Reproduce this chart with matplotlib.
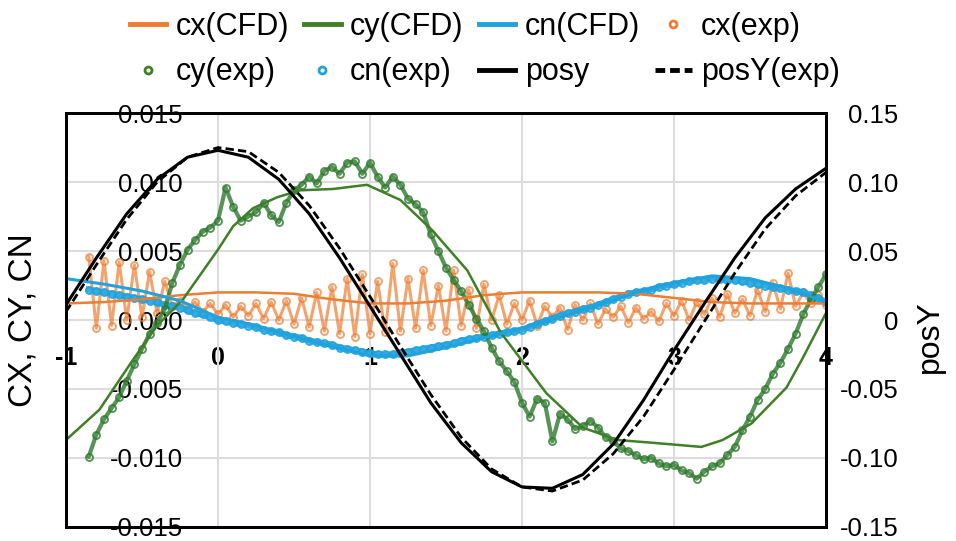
import numpy as np
import matplotlib
matplotlib.use("Agg")
import matplotlib.pyplot as plt
from matplotlib.lines import Line2D

plt.rcParams["font.family"] = ["Liberation Sans", "DejaVu Sans"]

# ── Data ──────────────────────────────────────────────────────────────────────
# CFD curves, coarse grid
t_cfd = [-1.0, -0.75, -0.5, -0.25, 0.0, 0.25, 0.5, 0.75, 1.0, 1.25, 1.5,
         1.75, 2.0, 2.25, 2.5, 2.75, 3.0, 3.25, 3.5, 3.75, 4.0]
cx_cfd = [0.0012, 0.0013, 0.0015, 0.0018, 0.0020, 0.0020, 0.0019, 0.0015,
          0.0012, 0.0012, 0.0014, 0.0018, 0.0020, 0.0020, 0.0020, 0.0019,
          0.0016, 0.0013, 0.0012, 0.0012, 0.0012]
cn_cfd = [0.0030, 0.0026, 0.0021, 0.0014, 0.0002, -0.0004, -0.0012, -0.0019,
          -0.0026, -0.0026, -0.0020, -0.0013, -0.0006, 0.0002, 0.0011, 0.0020,
          0.0027, 0.0032, 0.0030, 0.0023, 0.0013]

t_cy_cfd = [-1.0, -0.78, -0.56, -0.40, -0.23, 0.0, 0.10, 0.23, 0.39, 0.54,
            0.76, 0.98, 1.2, 1.41, 1.64, 1.86, 2.16, 2.40, 2.63, 2.86, 3.18,
            3.32, 3.51, 3.74, 3.85, 4.0]
cy_cfd = [-0.0087, -0.0065, -0.0029, -0.0004, 0.0015, 0.0051, 0.0068, 0.0081,
          0.0089, 0.0094, 0.0095, 0.0098, 0.0087, 0.0065, 0.0036, -0.0009,
          -0.0053, -0.0078, -0.0087, -0.0089, -0.0092, -0.0087, -0.0075,
          -0.0049, -0.0027, 0.0005]

# experiment, sampled every 0.05 from -0.85 to 4.0
t_exp = np.linspace(-0.85, 4.0, 98)
cx_exp = [0.0046, -0.0006, 0.0043, -0.0004, 0.0042, 0.0000, 0.0040, 0.0002, 0.0035, 0.0005,
          0.0028, 0.0010, 0.0014, 0.0008, 0.0013, 0.0006, 0.0012, 0.0004, 0.0011, 0.0002,
          0.0010, 0.0003, 0.0012, 0.0001, 0.0013, 0.0000, 0.0014, -0.0003, 0.0016, -0.0005,
          0.0020, -0.0008, 0.0024, -0.0010, 0.0030, -0.0012, 0.0033, -0.0010, 0.0028, -0.0009,
          0.0041, -0.0008, 0.0030, -0.0006, 0.0036, -0.0004, 0.0025, -0.0008, 0.0036, -0.0004,
          0.0022, -0.0006, 0.0026, 0.0000, 0.0018, -0.0003, 0.0012, 0.0000, 0.0014, -0.0004,
          0.0010, 0.0002, 0.0009, -0.0007, 0.0011, 0.0000, 0.0012, -0.0003, 0.0008, 0.0002,
          0.0010, -0.0002, 0.0009, 0.0001, 0.0006, -0.0001, 0.0012, 0.0003, 0.0014, 0.0000,
          0.0013, 0.0004, 0.0016, 0.0002, 0.0019, 0.0005, 0.0015, 0.0003, 0.0022, 0.0006,
          0.0027, 0.0008, 0.0034, 0.0010, 0.0020, 0.0012, 0.0018, 0.0011]
cy_exp = [-0.0099, -0.0083, -0.0072, -0.0064, -0.0056, -0.0044, -0.0032, -0.0021, -0.0010, -0.0002,
          0.0008, 0.0027, 0.0040, 0.0051, 0.0058, 0.0064, 0.0067, 0.0072, 0.0096, 0.0082,
          0.0072, 0.0075, 0.0078, 0.0085, 0.0076, 0.0071, 0.0085, 0.0094, 0.0098, 0.0104,
          0.0099, 0.0108, 0.0111, 0.0106, 0.0114, 0.0115, 0.0106, 0.0114, 0.0104, 0.0096,
          0.0104, 0.0098, 0.0088, 0.0084, 0.0078, 0.0062, 0.0050, 0.0038, 0.0029, 0.0021,
          0.0011, 0.0001, -0.0008, -0.0020, -0.0030, -0.0037, -0.0045, -0.0060, -0.0070, -0.0057,
          -0.0060, -0.0088, -0.0068, -0.0072, -0.0079, -0.0077, -0.0073, -0.0078, -0.0085, -0.0088,
          -0.0093, -0.0095, -0.0098, -0.0101, -0.0100, -0.0104, -0.0106, -0.0105, -0.0109, -0.0111,
          -0.0115, -0.0110, -0.0106, -0.0104, -0.0098, -0.0092, -0.0080, -0.0070, -0.0058, -0.0050,
          -0.0039, -0.0031, -0.0021, -0.0010, 0.0004, 0.0015, 0.0024, 0.0033]
cn_exp = [0.0022, 0.0021, 0.0020, 0.0019, 0.0018, 0.0017, 0.0016, 0.0015, 0.0014, 0.0013,
          0.0011, 0.0010, 0.0009, 0.0007, 0.0005, 0.0004, 0.0002, 0.0000, -0.0001, -0.0002,
          -0.0003, -0.0004, -0.0005, -0.0007, -0.0008, -0.0009, -0.0011, -0.0012, -0.0013, -0.0015,
          -0.0016, -0.0017, -0.0018, -0.0020, -0.0021, -0.0022, -0.0023, -0.0024, -0.0025, -0.0025,
          -0.0025, -0.0024, -0.0023, -0.0022, -0.0021, -0.0020, -0.0019, -0.0018, -0.0017, -0.0015,
          -0.0014, -0.0013, -0.0012, -0.0011, -0.0010, -0.0009, -0.0008, -0.0007, -0.0005, -0.0003,
          -0.0001, 0.0001, 0.0003, 0.0005, 0.0006, 0.0008, 0.0009, 0.0011, 0.0013, 0.0015,
          0.0017, 0.0019, 0.0020, 0.0021, 0.0022, 0.0024, 0.0025, 0.0026, 0.0027, 0.0028,
          0.0029, 0.0029, 0.0030, 0.0030, 0.0029, 0.0029, 0.0028, 0.0027, 0.0026, 0.0025,
          0.0024, 0.0023, 0.0022, 0.0021, 0.0020, 0.0018, 0.0016, 0.0013]

# position (right axis), every 0.2
t_pos = [-1.0, -0.8, -0.6, -0.4, -0.2, 0.0, 0.2, 0.4, 0.6, 0.8, 1.0, 1.2, 1.4,
         1.6, 1.8, 2.0, 2.2, 2.4, 2.6, 2.8, 3.0, 3.2, 3.4, 3.6, 3.8, 4.0]
posy = [0.011, 0.045, 0.077, 0.102, 0.118, 0.123, 0.118, 0.102, 0.077, 0.045,
        0.010, -0.025, -0.060, -0.089, -0.110, -0.121, -0.122, -0.112, -0.090,
        -0.058, -0.022, 0.012, 0.045, 0.074, 0.095, 0.110]
posy_exp = [0.006, 0.040, 0.073, 0.100, 0.118, 0.125, 0.122, 0.107, 0.083,
            0.052, 0.017, -0.019, -0.054, -0.085, -0.108, -0.121, -0.124, -0.116,
            -0.097, -0.070, -0.036, -0.001, 0.034, 0.066, 0.090, 0.107]

x_ticks = [-1, 0, 1, 2, 3, 4]
left_ticks = [0.015, 0.010, 0.005, 0.0, -0.005, -0.010, -0.015]
left_labels = ["0.015", "0.010", "0.005", "0.000", "-0.005", "-0.010", "-0.015"]
right_ticks = [0.15, 0.10, 0.05, 0.0, -0.05, -0.10, -0.15]
right_labels = ["0.15", "0.10", "0.05", "0", "-0.05", "-0.10", "-0.15"]

ORANGE = "#ed7d31"
GREEN = "#3f7f26"
GREEN_EXP = "#2e7a2e"
BLUE = "#1fa3de"

# ── Figure ────────────────────────────────────────────────────────────────────
fig = plt.figure(figsize=(9.56, 5.41), dpi=100)
ax = fig.add_axes([0.069, 0.026, 0.795, 0.765])
ax2 = ax.twinx()

ax.set_xlim(-1, 4)
ax.set_ylim(-0.015, 0.015)
ax2.set_ylim(-0.15, 0.15)

ax.set_axisbelow(True)
ax.grid(True, color="#dcdcdc", linewidth=1.5)

# experiment (hollow markers + connecting line, reads as a fuzzy band)
exp_kw = dict(marker="o", markersize=5, markerfacecolor="none",
              markeredgewidth=1.4, linewidth=2.2, alpha=0.7)
ax.plot(t_exp, cx_exp, color=ORANGE, **exp_kw)
ax.plot(t_exp, cn_exp, color=BLUE, **{**exp_kw, "linewidth": 4.5, "alpha": 0.9})
ax.plot(t_exp, cy_exp, color=GREEN_EXP, **{**exp_kw, "linewidth": 3.0, "alpha": 0.8})

# CFD
ax.plot(t_cfd, cx_cfd, color=ORANGE, linewidth=1.8)
ax.plot(t_cy_cfd, cy_cfd, color=GREEN, linewidth=1.8)
ax.plot(t_cfd, cn_cfd, color=BLUE, linewidth=2.2)

# position on right axis
ax2.plot(t_pos, posy, color="black", linewidth=2.2)
ax2.plot(t_pos, posy_exp, color="black", linewidth=2.0, linestyle=(0, (3, 1.5)))

# frame
for a in (ax, ax2):
    for sp in a.spines.values():
        sp.set_linewidth(2)
        sp.set_color("black")

# x ticks: labels sit just under the zero line
ax.set_xticks(x_ticks)
ax.tick_params(axis="x", length=0, labelbottom=False)
secx = ax.secondary_xaxis(0.5)
secx.set_alignment("bottom")
secx.set_xticks(x_ticks)
secx.set_xticklabels([str(v) for v in x_ticks], fontsize=18, fontweight="bold")
secx.tick_params(length=0, pad=19)
for sp in secx.spines.values():
    sp.set_visible(False)

# left y: labels inside the frame
ax.set_yticks(left_ticks)
ax.set_yticklabels(left_labels, fontsize=18.5)
ax.tick_params(axis="y", length=0, pad=-84)
ax.set_ylabel("CX, CY, CN", fontsize=24)
ax.yaxis.set_label_coords(-0.036, 0.5)

# right y
ax2.set_yticks(right_ticks)
ax2.set_yticklabels(right_labels, fontsize=18.5, ha="right")
ax2.tick_params(axis="y", length=0, pad=52)
ax2.set_ylabel("posY", fontsize=23)
ax2.yaxis.set_label_coords(1.117, 0.46)

# legend (row-wise order for a 4-column, 2-row layout)
handles = [
    Line2D([], [], color=ORANGE, linewidth=3.5),
    Line2D([], [], color=GREEN, linewidth=3.5),
    Line2D([], [], color=BLUE, linewidth=3.5),
    Line2D([], [], color=ORANGE, marker="o", linestyle="none", markersize=5,
           markerfacecolor="none", markeredgewidth=2),
    Line2D([], [], color=GREEN, marker="o", linestyle="none", markersize=5,
           markerfacecolor="none", markeredgewidth=2),
    Line2D([], [], color=BLUE, marker="o", linestyle="none", markersize=5,
           markerfacecolor="none", markeredgewidth=2),
    Line2D([], [], color="black", linewidth=3.5),
    Line2D([], [], color="black", linewidth=3.5, linestyle=(0, (2, 1))),
]
labels = ["cx(CFD)", "cy(CFD)", "cn(CFD)", "cx(exp)",
          "cy(exp)", "cn(exp)", "posy", "posY(exp)"]
order = [0, 4, 1, 5, 2, 6, 3, 7]
fig.legend([handles[i] for i in order], [labels[i] for i in order],
           loc="center", bbox_to_anchor=(0.507, 0.908),
           ncol=4, frameon=False, fontsize=22, handlelength=1.2,
           handletextpad=0.3, columnspacing=0.5, labelspacing=0.5,
           borderpad=0)

fig.savefig("out.png", dpi=100)
